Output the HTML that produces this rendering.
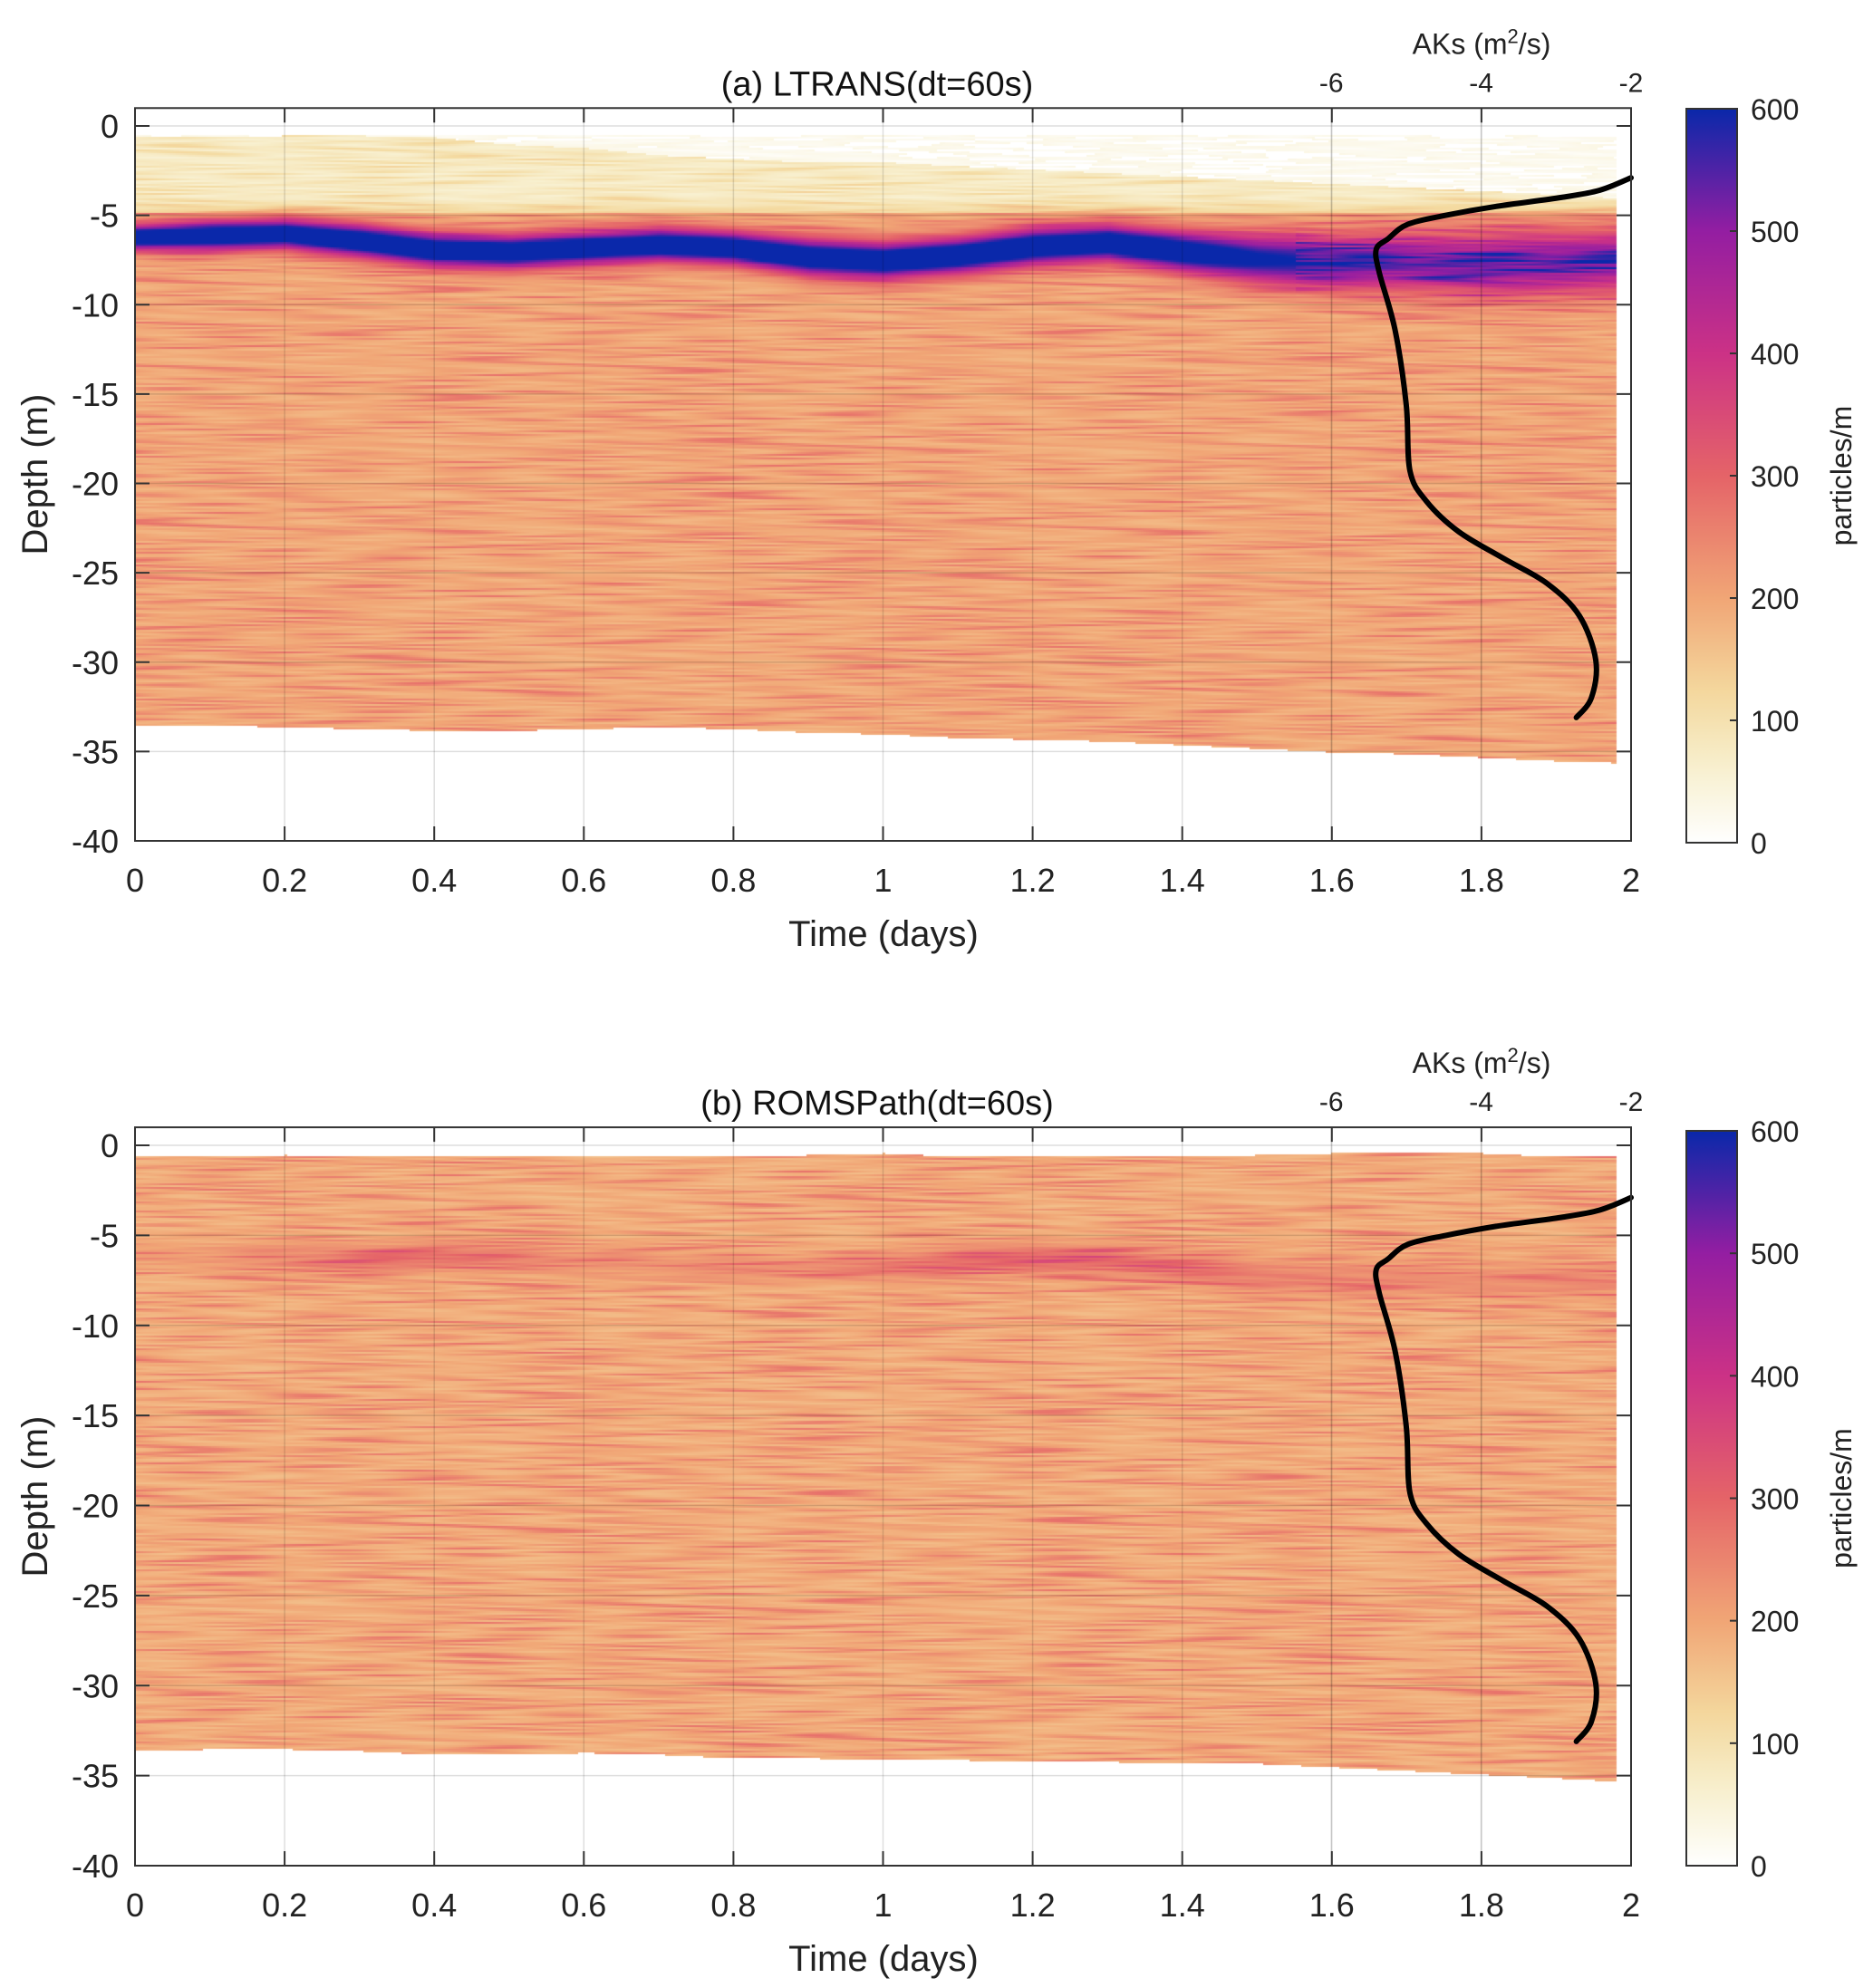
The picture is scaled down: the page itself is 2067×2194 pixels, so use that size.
<!DOCTYPE html>
<html><head><meta charset="utf-8">
<style>
html,body{margin:0;padding:0;background:#fff;}
#wrap{position:relative;width:2067px;height:2194px;overflow:hidden;font-family:"Liberation Sans",sans-serif;}
canvas{position:absolute;left:0;top:0;}
svg{position:absolute;left:0;top:0;}
</style></head>
<body>
<div id="wrap">
<canvas id="cv" width="2067" height="2194"></canvas>
<svg id="sv" width="2067" height="2194" xmlns="http://www.w3.org/2000/svg"></svg>
</div>
<script>
// ---- data ----
const timeNodes = [0,0.1,0.2,0.3,0.4,0.5,0.6,0.7,0.8,0.9,1.0,1.1,1.2,1.3,1.4,1.5,1.6,1.7,1.8,1.9,1.98];
const bandCenterA = [-6.2,-6.1,-6.0,-6.4,-6.9,-7.0,-6.8,-6.6,-6.8,-7.3,-7.5,-7.2,-6.7,-6.5,-7.0,-7.4,-7.6,-7.6,-7.7,-7.6,-7.5];
const bandPeakA   = [720,720,720,720,720,720,720,720,720,720,720,720,720,720,700,620,580,560,560,560,560];
const bandWidthA  = [0.7,0.8,0.8,0.9,0.9,0.9,0.9,0.9,0.9,1.0,1.0,1.0,1.0,1.0,1.1,1.3,1.5,1.6,1.7,1.7,1.7];
const bandCenterB = [-6.0,-6.1,-6.2,-6.3,-6.1,-6.2,-6.4,-6.6,-6.8,-6.8,-6.7,-6.4,-6.2,-6.3,-6.8,-7.2,-7.4,-7.4,-7.5,-7.6,-7.5];
const bandPeakB   = [220,230,240,290,300,270,240,240,240,250,280,300,320,300,290,270,260,250,250,250,250];
const bandWidthB  = [0.8,0.8,0.8,0.8,0.8,0.8,0.8,0.8,0.8,0.8,0.8,0.8,0.8,0.8,0.9,1.0,1.0,1.0,1.0,1.0,1.0];
const topEdgeA    = [-0.6,-0.6,-0.5,-0.5,-0.6,-1.0,-1.2,-1.6,-1.8,-2.0,-2.0,-2.2,-2.4,-2.6,-2.8,-3.0,-3.2,-3.4,-3.6,-3.8,-4.0];
const topEdgeB    = [-0.8,-0.7,-0.5,-0.6,-0.7,-0.8,-0.8,-0.6,-0.6,-0.5,-0.4,-0.6,-0.8,-0.8,-0.6,-0.5,-0.4,-0.4,-0.4,-0.6,-0.7];
const bottomEdgeA = [-33.5,-33.5,-33.6,-33.7,-33.8,-33.8,-33.7,-33.6,-33.7,-33.9,-34.0,-34.2,-34.3,-34.4,-34.6,-34.8,-35.0,-35.1,-35.3,-35.5,-35.6];
const bottomEdgeB = [-33.6,-33.5,-33.5,-33.6,-33.8,-33.8,-33.7,-33.8,-34.0,-34.0,-34.1,-34.1,-34.2,-34.2,-34.3,-34.3,-34.5,-34.7,-34.9,-35.1,-35.3];
const aksValues   = [-2.0,-2.42,-2.93,-3.8,-4.47,-4.98,-5.24,-5.4,-5.36,-5.15,-5.0,-4.95,-4.73,-4.3,-3.7,-3.12,-2.69,-2.47,-2.53,-2.73];
const aksDepths   = [-2.9,-3.6,-4.0,-4.5,-5.0,-5.5,-6.3,-6.9,-8.2,-11.4,-15.6,-19.3,-21.0,-22.7,-24.2,-25.6,-27.4,-29.9,-32.0,-33.1];
const xTicks = [0,0.2,0.4,0.6,0.8,1,1.2,1.4,1.6,1.8,2];
const xTickLabels = ["0","0.2","0.4","0.6","0.8","1","1.2","1.4","1.6","1.8","2"];
const yTicks = [0,-5,-10,-15,-20,-25,-30,-35,-40];
const aksTicks = [-6,-4,-2];
const cbTicks = [0,100,200,300,400,500,600];

// ---- layout ----
const panels = [
 {id:'a', title:'(a) LTRANS(dt=60s)', L:149, R:1800, y0:139, y40:928, cbT:120, cbB:930,
  center:bandCenterA, peak:bandPeakA, width:bandWidthA, top:topEdgeA, bot:bottomEdgeA, upperLight:true},
 {id:'b', title:'(b) ROMSPath(dt=60s)', L:149, R:1800, y0:1264, y40:2059, cbT:1248, cbB:2059,
  center:bandCenterB, peak:bandPeakB, width:bandWidthB, top:topEdgeB, bot:bottomEdgeB, upperLight:false}
];
const cmapStops=[[0,[255,255,255]],[60,[248,240,208]],[120,[244,218,160]],[200,[241,166,118]],[300,[229,100,104]],[400,[204,50,134]],[500,[148,30,162]],[600,[10,40,170]]];
function cmap(v){
  v=Math.max(0,Math.min(600,v));
  for(let i=1;i<cmapStops.length;i++){ if(v<=cmapStops[i][0]){const a=cmapStops[i-1],b=cmapStops[i];const f=(v-a[0])/(b[0]-a[0]);return a[1].map((c,k)=>Math.round(c+(b[1][k]-c)*f));}}
  return cmapStops[cmapStops.length-1][1];
}
function interp(arr,t){
  if(t<=timeNodes[0])return arr[0];
  for(let i=1;i<timeNodes.length;i++){ if(t<=timeNodes[i]){const f=(t-timeNodes[i-1])/(timeNodes[i]-timeNodes[i-1]);return arr[i-1]+(arr[i]-arr[i-1])*f;}}
  return arr[arr.length-1];
}
function tex(x,y){ // deterministic streak texture
  const a=Math.sin(x*0.031+7.3*Math.sin(y*0.211)+y*0.47);
  const b=Math.sin(x*0.017-5.1*Math.sin(y*0.137+1.7)+y*0.29);
  const c=Math.sin(x*0.009+3.7*Math.sin(y*0.083+0.4));
  return 0.45*a*b+0.35*b*c+0.3*a*c;
}
const ctx=document.getElementById('cv').getContext('2d');
panels.forEach(p=>{
  const sx=t=>p.L+(t/2)*(p.R-p.L), sy=d=>p.y0+(-d/40)*(p.y40-p.y0);
  const cw=3,ch=2, tEnd=1.98;
  for(let x=p.L;x<sx(tEnd);x+=cw){
    const t=(x-p.L)/(p.R-p.L)*2;
    const c=interp(p.center,t),pk=interp(p.peak,t),w=interp(p.width,t),tp=interp(p.top,t),bt=interp(p.bot,t);
    for(let y=sy(0);y<sy(bt);y+=ch){
      const d=-(y-p.y0)/(p.y40-p.y0)*40;
      const n=tex(x,y);
      let v;
      if(p.upperLight){
        if(d>-4.8){ if(d>tp) v=(d>-0.5)?0:(n>0.1?0:30+40*n); else v=80+50*n+ (d<-4?60*(-4-d):0); }
        else v=205+70*n;
      } else {
        if(d>-0.6 && d>tp) v=0; else v=200+75*n;
      }
      const g=Math.exp(-Math.pow((d-c)/w,2));
      const g4=g*g*g*g;
      const peakHere=(pk>600)? pk : pk*(1+0.25*n);
      v=v*(1-g)+peakHere*(p.upperLight?g4*0+g:g);
      if(v<=2)continue;
      const col=cmap(v);
      ctx.fillStyle='rgb('+col.join(',')+')';
      ctx.fillRect(x,y,cw,ch);
    }
  }
  const grd=ctx.createLinearGradient(0,p.cbB,0,p.cbT);
  for(let v=0;v<=600;v+=25){const c=cmap(v);grd.addColorStop(v/600,'rgb('+c.join(',')+')');}
  ctx.fillStyle=grd; ctx.fillRect(1861,p.cbT,56,p.cbB-p.cbT);
});

// ---- svg overlay ----
const NS='http://www.w3.org/2000/svg', sv=document.getElementById('sv');
function mk(tag,attrs,parent,text){const e=document.createElementNS(NS,tag);for(const k in attrs)e.setAttribute(k,attrs[k]);if(text!==undefined)e.textContent=text;(parent||sv).appendChild(e);return e;}
function smoothPath(P){
  let d='M'+P[0][0].toFixed(1)+','+P[0][1].toFixed(1);
  for(let i=0;i<P.length-1;i++){
    const p0=P[Math.max(0,i-1)],p1=P[i],p2=P[i+1],p3=P[Math.min(P.length-1,i+2)];
    const c1=[p1[0]+(p2[0]-p0[0])/6,p1[1]+(p2[1]-p0[1])/6];
    const c2=[p2[0]-(p3[0]-p1[0])/6,p2[1]-(p3[1]-p1[1])/6];
    d+=' C'+c1.map(v=>v.toFixed(1)).join(',')+' '+c2.map(v=>v.toFixed(1)).join(',')+' '+p2.map(v=>v.toFixed(1)).join(',');
  }
  return d;
}
panels.forEach(p=>{
  const g=mk('g',{});
  
  
  const top=p.y0-(p.y40-p.y0)/40, bottom=p.y40;
  const sx=t=>p.L+(t/2)*(p.R-p.L), sy=d=>p.y0+(-d/40)*(p.y40-p.y0);
  const ax=a=>p.R+(a+2)*82.7;
  xTicks.forEach(t=>{const l=mk('line',{x1:sx(t),x2:sx(t),y1:top,y2:bottom,stroke:'#000','stroke-opacity':0.13,'stroke-width':1.5},g);});
  yTicks.forEach(d=>{const l=mk('line',{x1:p.L,x2:p.R,y1:sy(d),y2:sy(d),stroke:'#000','stroke-opacity':0.13,'stroke-width':1.5},g);});
  aksTicks.forEach(a=>{const l=mk('line',{x1:ax(a),x2:ax(a),y1:top,y2:bottom,stroke:'#000','stroke-opacity':0.13,'stroke-width':1.5},g);});
  const P=aksValues.map((a,i)=>[ax(a),sy(aksDepths[i])]);
  const pl=mk('path',{d:smoothPath(P),fill:'none',stroke:'#000','stroke-width':6,'stroke-linejoin':'round','stroke-linecap':'round'},g);
  
  
  const fr=mk('rect',{x:p.L,y:top,width:p.R-p.L,height:bottom-top,fill:'none',stroke:'#333','stroke-width':2},g);
  
  
  xTicks.forEach((t,i)=>{
    mk('line',{x1:sx(t),x2:sx(t),y1:bottom,y2:bottom-16,stroke:'#333','stroke-width':2},g);
    mk('line',{x1:sx(t),x2:sx(t),y1:top,y2:top+16,stroke:'#333','stroke-width':2},g);
    const tx=mk('text',{x:sx(t),y:bottom+56,'font-size':36,'text-anchor':'middle',fill:'#222'},g,xTickLabels[i]);
    
  });
  yTicks.forEach(d=>{
    mk('line',{x1:p.L,x2:p.L+16,y1:sy(d),y2:sy(d),stroke:'#333','stroke-width':2},g);
    mk('line',{x1:p.R,x2:p.R-16,y1:sy(d),y2:sy(d),stroke:'#333','stroke-width':2},g);
    const tx=mk('text',{x:131,y:sy(d)+13,'font-size':36,'text-anchor':'end',fill:'#222'},g,String(d));
    
  });
  aksTicks.forEach(a=>{
    const tx=mk('text',{x:ax(a),y:top-18,'font-size':30,'text-anchor':'middle',fill:'#222'},g,String(a));
    
  });
  const ak=mk('text',{x:1635,y:top-60,'font-size':32,'text-anchor':'middle',fill:'#222'},g);
  
  mk('tspan',{},ak,'AKs (m');mk('tspan',{dy:-12,'font-size':22},ak,'2');mk('tspan',{dy:12},ak,'/s)');
  const ti=mk('text',{x:968,y:top-14,'font-size':38,'text-anchor':'middle',fill:'#111'},g,p.title);
  
  const xl=mk('text',{x:975,y:bottom+116,'font-size':40,'text-anchor':'middle',fill:'#222'},g,'Time (days)');
  
  const yc=(top+bottom)/2;
  const yl=mk('text',{x:52,y:yc,'font-size':40,'text-anchor':'middle',fill:'#222',transform:'rotate(-90 52 '+yc+')'},g,'Depth (m)');
  
  const cb=mk('rect',{x:1861,y:p.cbT,width:56,height:p.cbB-p.cbT,fill:'none',stroke:'#333','stroke-width':2},g);
  
  cbTicks.forEach(v=>{
    const y=p.cbB-(v/600)*(p.cbB-p.cbT);
    mk('line',{x1:1917,x2:1909,y1:y,y2:y,stroke:'#333','stroke-width':2},g);
    const tx=mk('text',{x:1932,y:y+12,'font-size':32,fill:'#222'},g,String(v));
    
  });
  const cy=(p.cbT+p.cbB)/2;
  const cl=mk('text',{x:2043,y:cy,'font-size':32,'text-anchor':'middle',fill:'#222',transform:'rotate(-90 2043 '+cy+')'},g,'particles/m');
  
});
</script>
</body></html>
